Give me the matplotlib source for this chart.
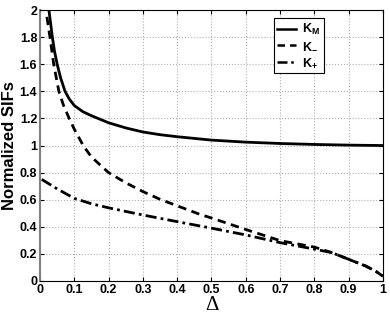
import matplotlib
matplotlib.use("Agg")
import matplotlib.pyplot as plt

# values
x_km = [0.026, 0.031, 0.036, 0.042, 0.05, 0.06, 0.073, 0.085, 0.1, 0.125, 0.15,
        0.2, 0.25, 0.3, 0.35, 0.4, 0.5, 0.6, 0.7, 0.8, 0.9, 1.0]
k_m = [2.0, 1.9, 1.8, 1.7, 1.6, 1.5, 1.4, 1.345, 1.295, 1.25, 1.22,
       1.168, 1.13, 1.1, 1.08, 1.065, 1.04, 1.025, 1.015, 1.008, 1.003, 1.0]

x_kminus = [0.02, 0.029, 0.04, 0.055, 0.068, 0.085, 0.1, 0.126, 0.15, 0.2,
            0.25, 0.3, 0.35, 0.4, 0.466, 0.5, 0.6, 0.7, 0.8, 0.85, 0.9,
            0.95, 0.98, 1.0]
k_minus = [1.95, 1.8, 1.6, 1.4, 1.3, 1.2, 1.12, 1.0, 0.915, 0.8,
           0.725, 0.66, 0.603, 0.555, 0.492, 0.465, 0.38, 0.298, 0.25, 0.21, 0.16,
           0.11, 0.07, 0.035]

x_kplus = [0.005, 0.05, 0.1, 0.15, 0.2, 0.3, 0.4, 0.5, 0.6, 0.7, 0.8, 0.85,
           0.9, 0.95, 0.98, 1.0]
k_plus = [0.75, 0.68, 0.61, 0.57, 0.54, 0.487, 0.438, 0.39, 0.34, 0.283,
          0.235, 0.21, 0.16, 0.11, 0.07, 0.035]

xticks = [0, 0.1, 0.2, 0.3, 0.4, 0.5, 0.6, 0.7, 0.8, 0.9, 1]
yticks = [0, 0.2, 0.4, 0.6, 0.8, 1, 1.2, 1.4, 1.6, 1.8, 2]

plt.rcParams['font.family'] = ['Liberation Sans', 'DejaVu Sans']

fig = plt.figure(figsize=(3.9, 3.15), dpi=100)
ax = fig.add_axes([0.1026, 0.108, 0.8794, 0.86])

ax.plot(x_km, k_m, 'k-', lw=2, label='K$_\\mathregular{M}$')
ax.plot(x_kminus, k_minus, 'k--', lw=2, dashes=(3, 2), label='K$_\\mathregular{-}$')
ax.plot(x_kplus, k_plus, 'k-.', lw=2, dashes=(4, 1.5, 1, 1.5), label='K$_\\mathregular{+}$')

ax.set_xlim(0, 1)
ax.set_ylim(0, 2)
ax.set_xticks(xticks)
ax.set_yticks(yticks)
ax.set_xticklabels([('%g' % t) for t in xticks], fontweight='bold', fontsize=9)
ax.set_yticklabels([('%g' % t) for t in yticks], fontweight='bold', fontsize=9)
ax.tick_params(direction='in', length=3, top=True, right=True, pad=2)
ax.grid(True, linestyle=':', color='#b0b0b0', lw=0.8)
ax.spines['left'].set_color('#808080')
ax.spines['left'].set_linewidth(1.5)

ax.set_xlabel('\u0394', fontsize=15, labelpad=0, family=['Liberation Serif', 'DejaVu Serif'])
ax.set_ylabel('Normalized SIFs', fontsize=12, fontweight='bold', labelpad=2)

leg = ax.legend(loc='upper right', bbox_to_anchor=(0.828, 0.97), borderaxespad=0,
                prop={'weight': 'bold', 'size': 9}, handlelength=1.5,
                fancybox=False, edgecolor='black', framealpha=1,
                borderpad=0.3, labelspacing=0.3, handletextpad=0.5)
leg.get_frame().set_linewidth(0.8)
for h in leg.get_lines():
    h.set_linewidth(1.8)

fig.savefig('out.png', dpi=100)
